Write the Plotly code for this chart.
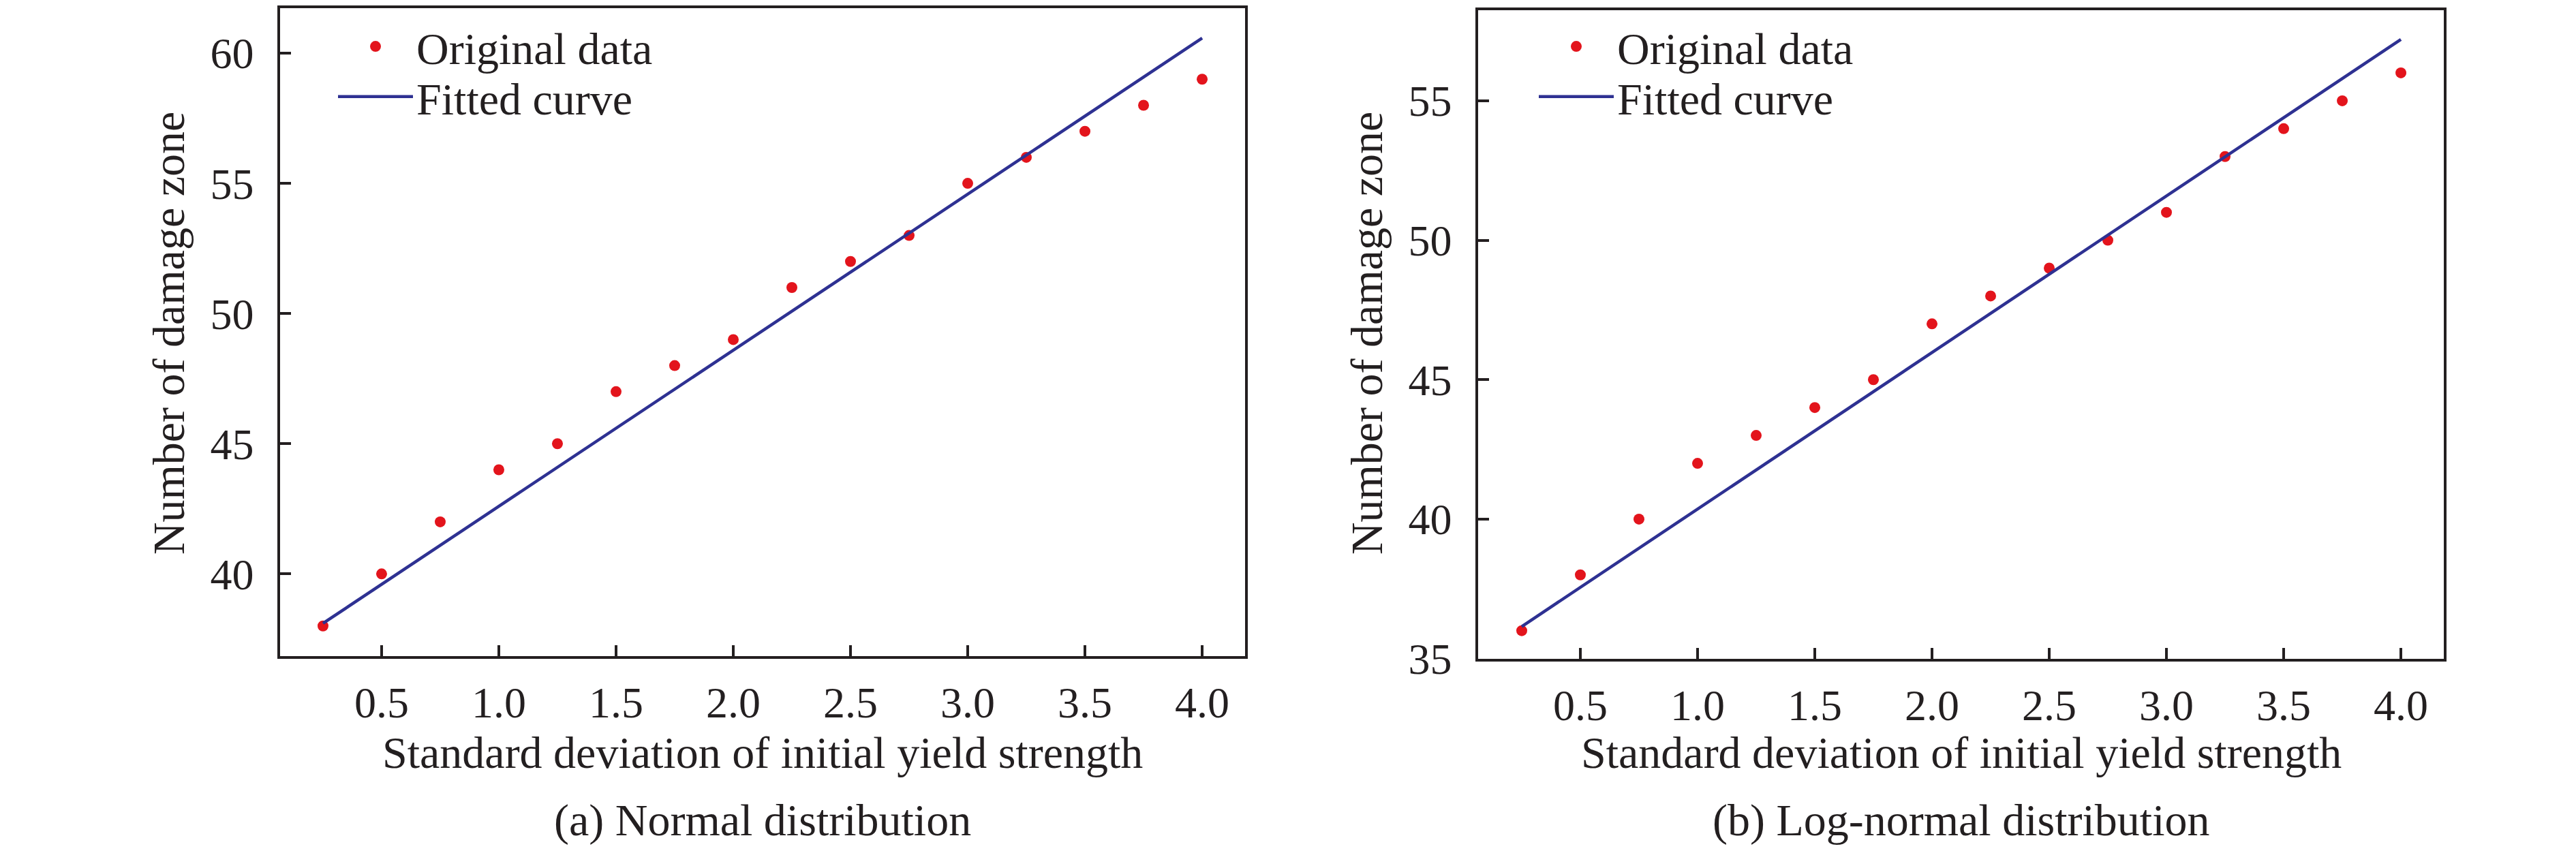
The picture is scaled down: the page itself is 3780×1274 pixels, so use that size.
import plotly.graph_objects as go

# ---------------- data ----------------
std_dev = [0.25, 0.5, 0.75, 1.0, 1.25, 1.5, 1.75, 2.0, 2.25, 2.5, 2.75, 3.0, 3.25, 3.5, 3.75, 4.0]
normal_counts = [38, 40, 42, 44, 45, 47, 48, 49, 51, 52, 53, 55, 56, 57, 58, 59]
lognormal_counts = [36, 38, 40, 42, 43, 44, 45, 47, 48, 49, 50, 51, 53, 54, 55, 56]

fit_x = [0.25, 4.0]
normal_fit = [38.1, 60.58]
lognormal_fit = [36.15, 57.2]

x_ticks = [0.5, 1.0, 1.5, 2.0, 2.5, 3.0, 3.5, 4.0]
normal_y_ticks = [40, 45, 50, 55, 60]
lognormal_y_ticks = [35, 40, 45, 50, 55]

x_title = "Standard deviation of initial yield strength"
y_title = "Number of damage zone"
captions = ["(a) Normal distribution", "(b) Log-normal distribution"]
legend_names = ["Original data", "Fitted curve"]

# ---------------- style ----------------
W, H = 3780, 1274
FONT = "'Liberation Serif', 'Times New Roman', Times, 'DejaVu Serif', serif"
INK = "#231f20"
RED = "#e3141c"
BLUE = "#2e3192"
FS = 66
FS_TICK = 64

fig = go.Figure()

panels = [
    dict(y=normal_counts, fit=normal_fit, xa="x", ya="y", lg=("legend", "legend3")),
    dict(y=lognormal_counts, fit=lognormal_fit, xa="x2", ya="y2", lg=("legend2", "legend4")),
]
for p in panels:
    fig.add_trace(go.Scatter(
        x=std_dev, y=p["y"], mode="markers", name=legend_names[0],
        marker=dict(color=RED, size=16, line=dict(width=0)),
        xaxis=p["xa"], yaxis=p["ya"], legend=p["lg"][0],
    ))
    fig.add_trace(go.Scatter(
        x=fit_x, y=p["fit"], mode="lines", name=legend_names[1],
        line=dict(color=BLUE, width=4.5),
        xaxis=p["xa"], yaxis=p["ya"], legend=p["lg"][1],
    ))

# plot area domains (pixel measurements -> paper fractions)
dom_x1 = [403 / W, 1819 / W]
dom_x2 = [2161 / W, 3578 / W]
dom_y1 = [1 - 982 / H, 1 - 2 / H]
dom_y2 = [1 - 986 / H, 1 - 5 / H]

common_axis = dict(
    showgrid=False, zeroline=False, showline=True, linecolor=INK, linewidth=3.5,
    mirror=True, ticks="inside", ticklen=16, tickwidth=3.5, tickcolor=INK,
    tickfont=dict(family=FONT, size=FS_TICK, color=INK),
)


def legend_box(x_px, y_px):
    return dict(x=x_px / W, y=1 - y_px / H, xanchor="left", yanchor="middle",
                bgcolor="rgba(0,0,0,0)", borderwidth=0, itemwidth=110,
                font=dict(family=FONT, size=FS, color=INK))


fig.update_layout(
    width=W, height=H,
    margin=dict(l=0, r=0, t=0, b=0),
    paper_bgcolor="white", plot_bgcolor="white",
    font=dict(family=FONT, size=FS, color=INK),
    xaxis=dict(domain=dom_x1, range=[0.067, 4.183], tickvals=x_ticks, tickformat=".1f",
               anchor="y", ticklabelstandoff=10, **common_axis),
    yaxis=dict(domain=dom_y1, range=[36.85, 61.73], tickvals=normal_y_ticks,
               anchor="x", ticklabelstandoff=22, **common_axis),
    xaxis2=dict(domain=dom_x2, range=[0.064, 4.183], tickvals=x_ticks, tickformat=".1f",
                anchor="y2", ticklabelstandoff=10, **common_axis),
    yaxis2=dict(domain=dom_y2, range=[35.0, 58.25], tickvals=lognormal_y_ticks,
                anchor="x2", ticklabelstandoff=22, **common_axis),
    legend=legend_box(403 + 80, 60),
    legend3=legend_box(403 + 80, 136),
    legend2=legend_box(2161 + 84, 60),
    legend4=legend_box(2161 + 84, 136),
    showlegend=True,
)

# axis titles and captions
centers_x = [(403 + 1819) / 2 / W, (2161 + 3578) / 2 / W]
ytitle_x = [239 / W, 1997 / W]
for i in range(2):
    fig.add_annotation(text=x_title, x=centers_x[i], y=1 - 1128 / H, xref="paper", yref="paper",
                       xanchor="center", yanchor="middle", showarrow=False,
                       font=dict(family=FONT, size=FS, color=INK))
    fig.add_annotation(text=captions[i], x=centers_x[i], y=1 - 1231 / H, xref="paper", yref="paper",
                       xanchor="center", yanchor="middle", showarrow=False,
                       font=dict(family=FONT, size=FS, color=INK))
    fig.add_annotation(text=y_title, x=ytitle_x[i], y=1 - 494 / H, xref="paper", yref="paper",
                       xanchor="center", yanchor="middle", showarrow=False, textangle=-90,
                       font=dict(family=FONT, size=FS, color=INK))

fig.write_html("out.html")
